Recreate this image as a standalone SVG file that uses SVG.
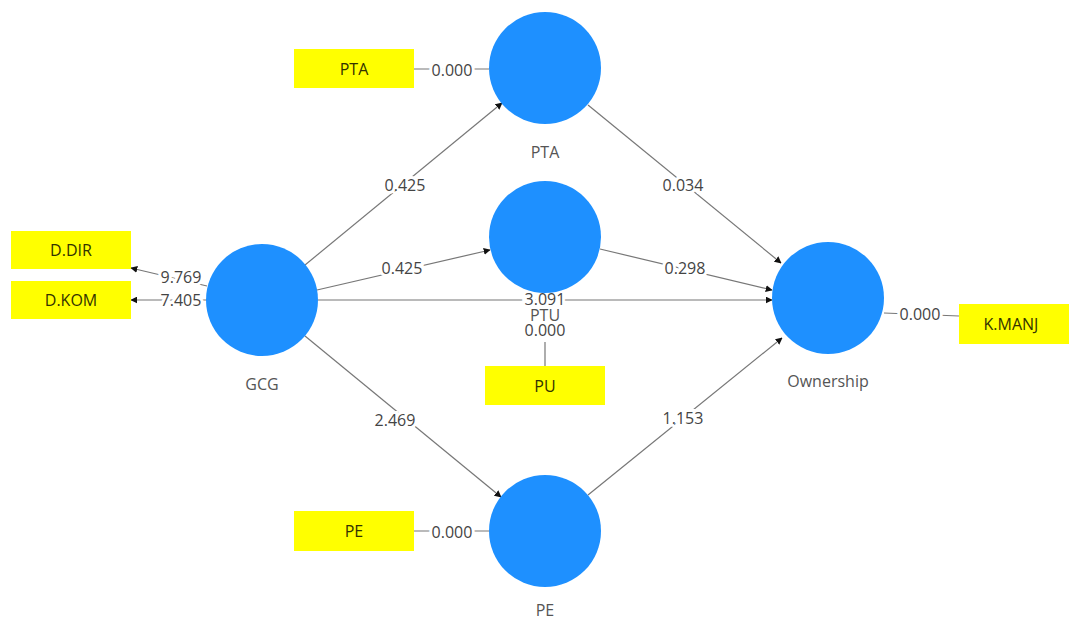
<svg xmlns="http://www.w3.org/2000/svg" width="1069" height="619" viewBox="0 0 1069 619">
<style>
.lv{fill:#1E90FF;}
.ind{fill:#FFFF00;}
.t{font-family:"Open Sans","Noto Sans",sans-serif;font-size:16px;text-anchor:middle;dominant-baseline:central;}
.bt{fill:#333300;}
.nl{fill:#555;}
.el{fill:#444;stroke:#fff;stroke-width:6px;paint-order:stroke;}
.c{stroke:#777;stroke-width:1.2;fill:none;}
.a{marker-end:url(#ah);}
</style>
<defs>
<marker id="ah" viewBox="0 0 10 10" refX="9" refY="5" markerWidth="7" markerHeight="7" orient="auto" markerUnits="userSpaceOnUse">
<path d="M0,0 L10,5 L0,10 z" fill="#111"/>
</marker>
</defs>
<rect width="1069" height="619" fill="#fff"/>
<g id="connectors">
<line class="c" x1="414" y1="69" x2="489" y2="69"/>
<line class="c a" x1="305" y1="265" x2="502" y2="103"/>
<line class="c a" x1="317" y1="290" x2="490" y2="250"/>
<line class="c a" x1="318" y1="300" x2="772" y2="300"/>
<line class="c a" x1="600" y1="249" x2="772" y2="290"/>
<line class="c a" x1="588" y1="105" x2="781" y2="263"/>
<line class="c a" x1="305" y1="336" x2="501" y2="497"/>
<line class="c a" x1="588" y1="495" x2="782" y2="338"/>
<line class="c a" x1="207" y1="286" x2="131" y2="268"/>
<line class="c a" x1="207" y1="300" x2="131" y2="300"/>
<line class="c" x1="545" y1="366" x2="545" y2="342"/>
<line class="c" x1="884" y1="313" x2="959" y2="316"/>
<line class="c" x1="414" y1="531" x2="489" y2="531"/>
<text class="t el" x="452" y="70">0.000</text>
<text class="t el" x="405" y="185">0.425</text>
<text class="t el" x="402" y="268">0.425</text>
<text class="t el" x="545" y="299">3.091</text>
<text class="t el" x="685" y="268">0.298</text>
<text class="t el" x="683" y="185">0.034</text>
<text class="t el" x="395" y="420">2.469</text>
<text class="t el" x="683" y="418">1.153</text>
<text class="t el" x="181" y="277">9.769</text>
<text class="t el" x="181" y="300">7.405</text>
<text class="t el" x="545" y="330">0.000</text>
<text class="t el" x="920" y="314">0.000</text>
<text class="t el" x="452" y="532">0.000</text>
</g>
<g id="PTA">
<circle class="lv" cx="545" cy="68" r="56"/>
<text class="t nl" x="545" y="152">PTA</text>
</g>
<g id="PTU">
<circle class="lv" cx="545" cy="237" r="56"/>
<text class="t nl" x="545" y="315">PTU</text>
</g>
<g id="GCG">
<circle class="lv" cx="262" cy="300" r="56"/>
<text class="t nl" x="262" y="384">GCG</text>
</g>
<g id="Ownership">
<circle class="lv" cx="828" cy="298" r="56"/>
<text class="t nl" x="828" y="381">Ownership</text>
</g>
<g id="PE">
<circle class="lv" cx="545" cy="531" r="56"/>
<text class="t nl" x="545" y="610">PE</text>
</g>
<g id="ind-PTA">
<rect class="ind" x="294" y="49" width="120" height="39"/>
<text class="t bt" x="354" y="69">PTA</text>
</g>
<g id="ind-DDIR">
<rect class="ind" x="11" y="231" width="120" height="38"/>
<text class="t bt" x="71" y="250">D.DIR</text>
</g>
<g id="ind-DKOM">
<rect class="ind" x="11" y="281" width="120" height="38"/>
<text class="t bt" x="71" y="300">D.KOM</text>
</g>
<g id="ind-PU">
<rect class="ind" x="485" y="366" width="120" height="39"/>
<text class="t bt" x="545" y="386">PU</text>
</g>
<g id="ind-KMANJ">
<rect class="ind" x="959" y="304" width="110" height="40"/>
<text class="t bt" x="1011" y="324">K.MANJ</text>
</g>
<g id="ind-PE">
<rect class="ind" x="294" y="511" width="120" height="40"/>
<text class="t bt" x="354" y="531">PE</text>
</g>
</svg>
